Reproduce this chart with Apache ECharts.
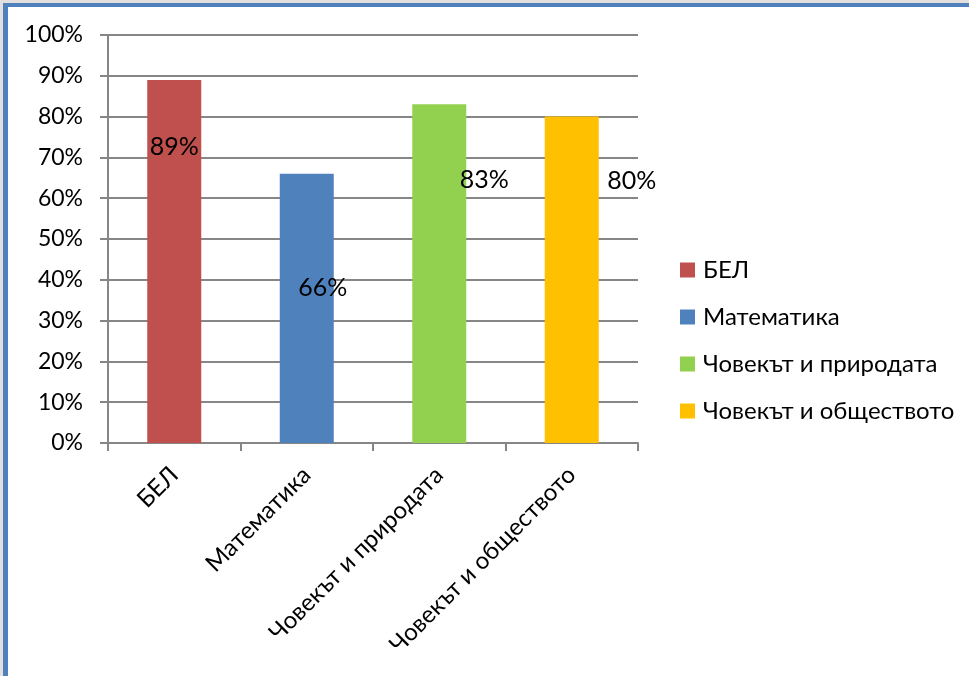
<!DOCTYPE html>
<html><head><meta charset="utf-8">
<script src="https://cdn.jsdelivr.net/npm/echarts@6/dist/echarts.min.js"></script>
<style>
html,body{margin:0;padding:0;width:969px;height:676px;overflow:hidden;background:#e3dfdf;}
#frame{position:absolute;left:3px;top:3px;width:966px;height:673px;box-sizing:border-box;background:#fff;border-top:4px solid #4f81bd;border-left:5px solid #4f81bd;}
#main{position:absolute;left:0;top:0;width:969px;height:676px;}
</style></head>
<body>
<div id="frame"></div>
<div id="main"></div>
<script>
var categories = ['БЕЛ', 'Математика', 'Човекът и природата', 'Човекът и обществото'];
var values = [89, 66, 83, 80];
var colors = ['#c0504d', '#4f81bd', '#92d050', '#ffc000'];
var yTicks = [0, 10, 20, 30, 40, 50, 60, 70, 80, 90, 100];

var labelPos = [[27, 67], [43, 114], [72, 76], [87, 64]];
var FONT = 'Lato';

var series = categories.map(function (name, i) {
  return {
    name: name,
    type: 'bar',
    stack: 'all',
    barWidth: 54,
    itemStyle: { color: colors[i] },
    label: {
      show: true,
      position: labelPos[i],
      align: 'center',
      verticalAlign: 'middle',
      formatter: function (p) { return p.value + '%'; },
      color: '#000',
      fontFamily: FONT,
      fontSize: 25
    },
    data: categories.map(function (c, j) { return j === i ? values[i] : null; })
  };
});

var chart = echarts.init(document.getElementById('main'));
chart.setOption({
  animation: false,
  backgroundColor: 'transparent',
  textStyle: { fontFamily: FONT },
  grid: { left: 108, top: 35, right: 331, bottom: 233, containLabel: false },
  legend: {
    orient: 'vertical',
    left: 675,
    top: 253,
    itemWidth: 15,
    itemHeight: 15,
    itemGap: 23,
    icon: 'rect',
    data: categories,
    textStyle: { fontFamily: FONT, fontSize: 24, color: '#000', padding: [0, 0, 0, 3] }
  },
  xAxis: {
    type: 'category',
    data: categories,
    axisLine: { lineStyle: { color: '#868686', width: 2 } },
    axisTick: { show: true, length: 8, alignWithLabel: false, lineStyle: { color: '#868686', width: 2 } },
    axisLabel: { rotate: 45, margin: 28, color: '#000', fontFamily: FONT, fontSize: 24, interval: 0 }
  },
  yAxis: {
    type: 'value',
    min: yTicks[0],
    max: yTicks[yTicks.length - 1],
    interval: yTicks[1] - yTicks[0],
    axisLine: { show: true, lineStyle: { color: '#868686', width: 2 } },
    axisTick: { show: true, length: 8, lineStyle: { color: '#868686', width: 2 } },
    splitLine: { show: true, lineStyle: { color: '#868686', width: 2 } },
    axisLabel: { margin: 25, color: '#000', fontFamily: FONT, fontSize: 23, formatter: '{value}%' }
  },
  series: series
});
</script>
</body></html>
